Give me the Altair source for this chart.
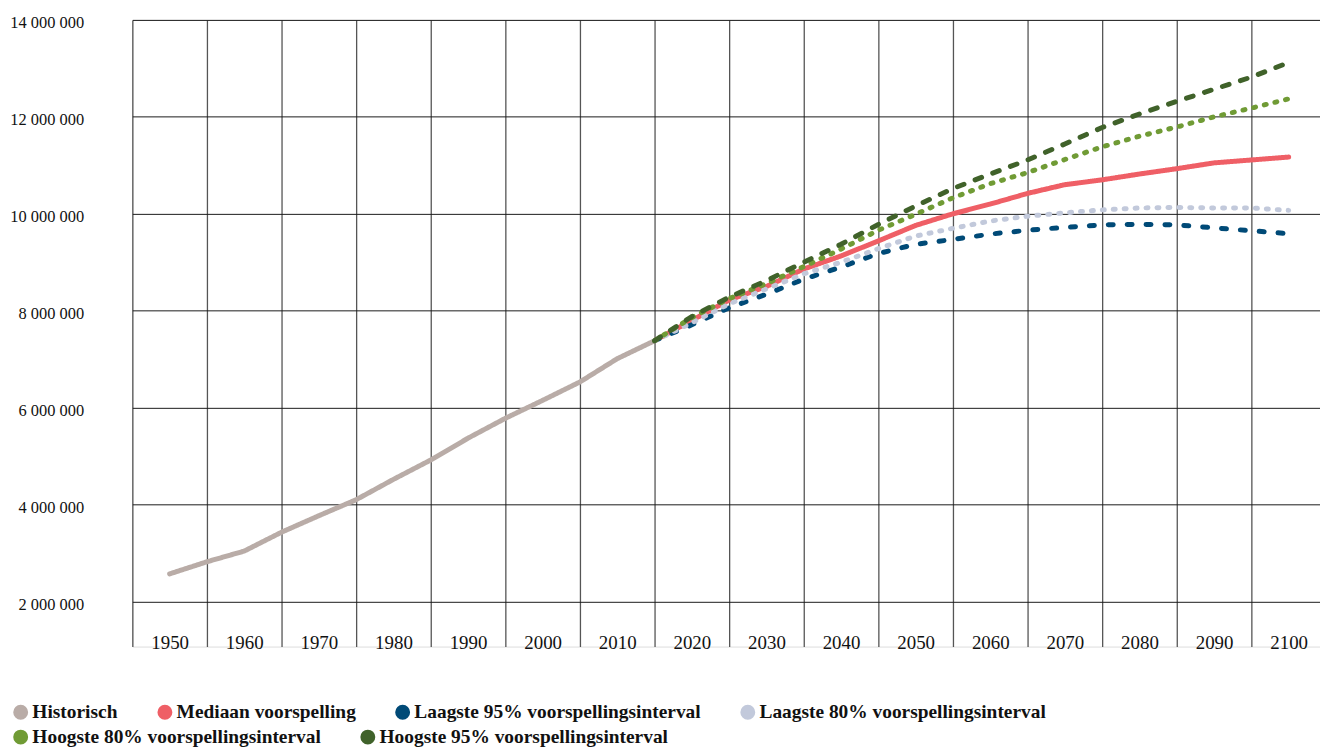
import altair as alt
import pandas as pd

series_names = [
    "Historisch",
    "Mediaan voorspelling",
    "Laagste 95% voorspellingsinterval",
    "Laagste 80% voorspellingsinterval",
    "Hoogste 80% voorspellingsinterval",
    "Hoogste 95% voorspellingsinterval",
]
series_colors = ["#b9aca7", "#ef5f66", "#004a77", "#c2c9db", "#709b35", "#40622a"]
series_dashes = [[1, 0], [1, 0], [5, 14], [2, 9], [2, 9], [7, 12]]

hist_years = [1950, 1955, 1960, 1965, 1970, 1975, 1980, 1985, 1990, 1995, 2000, 2005, 2010, 2015]
hist_values = [2570000, 2820000, 3040000, 3430000, 3770000, 4100000, 4520000, 4920000,
               5370000, 5780000, 6150000, 6530000, 7010000, 7380000]

proj_years = [2015, 2020, 2025, 2030, 2035, 2040, 2045, 2050, 2055, 2060,
              2065, 2070, 2075, 2080, 2085, 2090, 2095, 2100]
median_values = [7380000, 7800000, 8220000, 8500000, 8860000, 9130000, 9440000, 9760000, 10000000,
                 10200000, 10420000, 10600000, 10700000, 10820000, 10930000, 11050000, 11110000, 11170000]
low95_values = [7380000, 7710000, 8060000, 8340000, 8650000, 8900000, 9180000, 9370000, 9470000,
                9580000, 9660000, 9720000, 9770000, 9780000, 9770000, 9710000, 9650000, 9590000]
low80_values = [7380000, 7750000, 8140000, 8450000, 8760000, 9000000, 9280000, 9540000, 9700000,
                9850000, 9950000, 10020000, 10080000, 10120000, 10130000, 10120000, 10120000, 10070000]
high80_values = [7380000, 7860000, 8250000, 8560000, 8910000, 9270000, 9660000, 9990000, 10330000,
                 10620000, 10850000, 11120000, 11380000, 11600000, 11790000, 12000000, 12180000, 12370000]
high95_values = [7380000, 7880000, 8280000, 8620000, 9000000, 9370000, 9780000, 10160000, 10520000,
                 10820000, 11110000, 11440000, 11780000, 12060000, 12320000, 12570000, 12820000, 13120000]

y_ticks = [2000000, 4000000, 6000000, 8000000, 10000000, 12000000, 14000000]
x_grid = [1945, 1955, 1965, 1975, 1985, 1995, 2005, 2015, 2025, 2035, 2045, 2055, 2065, 2075, 2085, 2095]

rows = []
for y, v in zip(hist_years, hist_values):
    rows.append({"series": series_names[0], "dash": series_names[0], "year": y, "value": v})
proj_lists = [median_values, low95_values, low80_values, high80_values, high95_values]
for name, vals in zip(series_names[1:], proj_lists):
    for y, v in zip(proj_years, vals):
        rows.append({"series": name, "dash": name, "year": y, "value": v})
df = pd.DataFrame(rows)
df_a = df[df["series"].isin(series_names[:4])]
df_b = df[df["series"].isin(series_names[4:])]

FONT = "Liberation Serif"

x_enc = alt.X(
    "year:Q",
    scale=alt.Scale(domain=[1945, 2104.2], nice=False, zero=False),
    axis=alt.Axis(
        title=None, values=x_grid, grid=True, gridColor="#555555", gridWidth=1.3,
        domain=False, ticks=False, tickSize=0,
        labelExpr="datum.value + 5", labelOffset=37.5, labelPadding=2,
        labelBaseline="alphabetic", labelFlush=False, labelOverlap=False, labelBound=False,
        labelFont=FONT, labelFontSize=19, labelColor="#111111",
    ),
)
y_enc = alt.Y(
    "value:Q",
    scale=alt.Scale(domain=[1070000, 14000000], nice=False, zero=False),
    axis=alt.Axis(
        title=None, values=y_ticks, grid=True, gridColor="#1a1a1a", gridWidth=1,
        domain=False, ticks=False, tickSize=0,
        labelExpr="replace(format(datum.value, ','), regexp(',', 'g'), ' ')",
        labelPadding=49, labelOffset=3, labelFont=FONT, labelFontSize=16.5, labelColor="#111111",
    ),
)
dash_enc = alt.StrokeDash(
    "dash:N", scale=alt.Scale(domain=series_names, range=series_dashes), legend=None
)

legend_common = dict(
    title=None, orient="none", direction="horizontal", symbolType="circle",
    symbolSize=56, symbolStrokeWidth=7.5, labelFont=FONT, labelFontSize=19.5,
    labelFontWeight="bold", labelColor="#111111", labelLimit=600, labelOffset=2,
    columnPadding=28,
)

line_mark = dict(strokeWidth=5, strokeCap="round", strokeJoin="round")

layer_a = alt.Chart(df_a).mark_line(**line_mark).encode(
    x=x_enc,
    y=y_enc,
    color=alt.Color(
        "series:N",
        scale=alt.Scale(domain=series_names[:4], range=series_colors[:4]),
        legend=alt.Legend(legendX=-122, legendY=686, **legend_common),
    ),
    strokeDash=dash_enc,
)

layer_b = alt.Chart(df_b).mark_line(**line_mark).encode(
    x=x_enc,
    y=y_enc,
    stroke=alt.Stroke(
        "series:N",
        scale=alt.Scale(domain=series_names[4:], range=series_colors[4:]),
        legend=alt.Legend(legendX=-122, legendY=711, **legend_common),
    ),
    strokeDash=dash_enc,
)

chart = alt.layer(layer_a, layer_b).properties(
    width=1194,
    height=630,
    autosize=alt.AutoSizeParams(type="none"),
    padding={"left": 125, "top": 10, "right": 0, "bottom": 99},
).configure_view(stroke=None).configure(background="white")

chart.save("out.html", embed_options={"renderer": "svg", "actions": False})
